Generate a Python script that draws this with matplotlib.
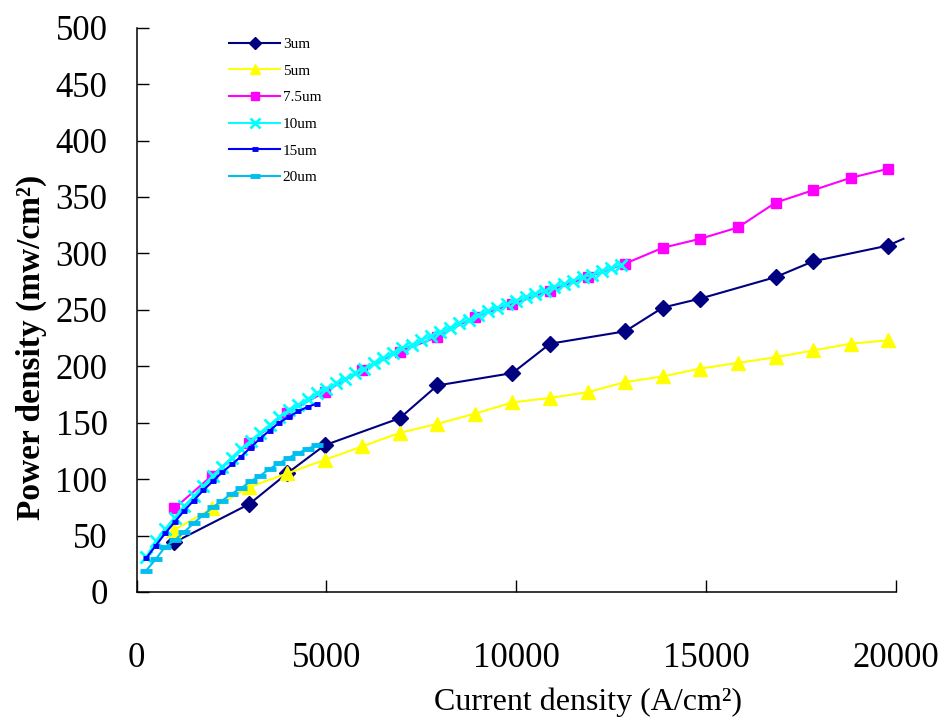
import numpy as np
import matplotlib
matplotlib.use('Agg')
import matplotlib.pyplot as plt

plt.rcParams['font.family'] = ['Liberation Serif', 'DejaVu Serif']

# current density (A/cm2) and power density (mw/cm2)
x_3um = [990, 2970, 3960, 4950, 6930, 7920, 9900, 10890, 12870, 13860, 14850,
         16830, 17820, 19800, 20200]
y_3um = [44, 78, 105, 130, 154, 183, 194, 220, 231, 252, 260, 279, 293, 307, 313]

x_5um = [990, 1980, 2970, 3960, 4950, 5940, 6930, 7920, 8910, 9900, 10890,
         11880, 12870, 13860, 14850, 15840, 16830, 17820, 18810, 19800]
y_5um = [55, 74, 93, 105, 117, 129, 141, 149, 158, 168, 172, 177, 186, 191,
         198, 203, 208, 214, 220, 223]

x_7um = x_5um
y_7um = [74, 103, 132, 159, 177, 197, 213, 226, 244, 255, 267, 279, 291, 305,
         313, 323, 345, 356, 367, 375]

x_10um = np.arange(250, 12751, 250)
y_10um = [31, 45, 56, 66, 76, 85, 94, 103, 111, 119, 127, 134, 141, 148, 155,
          161, 166, 171, 176, 180, 185, 189, 194, 198, 203, 207, 212, 216, 219,
          223, 227, 230, 234, 238, 241, 245, 249, 252, 255, 258, 261, 264, 267,
          270, 273, 276, 279, 281, 284, 287, 290]

x_15um = np.arange(250, 4751, 250)
y_15um = [30, 41, 52, 62, 72, 81, 90, 98, 106, 113, 120, 128, 136, 143, 150,
          155, 160, 164, 167]

x_20um = np.arange(250, 4751, 250)
y_20um = [19, 29, 40, 46, 53, 61, 68, 75, 81, 87, 92, 98, 103, 109, 114, 119,
          123, 127, 130]

labels = ['3um', '5um', '7.5um', '10um', '15um', '20um']

fig = plt.figure(figsize=(9.46, 7.27), dpi=100)
ax = fig.add_axes([0.1445, 0.1857, 0.8025, 0.7762])

lw = 1.5
ax.plot(x_3um, y_3um, color='#000080', lw=lw, marker='D', ms=8.5,
        markevery=list(range(len(x_3um) - 1)), clip_on=False, label=labels[0])
ax.plot(x_5um, y_5um, color='#FFFF00', lw=lw, marker='^', ms=10, label=labels[1])
ax.plot(x_7um, y_7um, color='#FF00FF', lw=lw, marker='s', ms=7.5, label=labels[2])
ax.plot(x_10um, y_10um, color='#00FFFF', lw=lw, marker='x', ms=9, mew=2,
        label=labels[3])
ax.plot(x_15um, y_15um, color='#0000FF', lw=lw, marker='_', ms=5, mew=3.5,
        label=labels[4])
ax.plot(x_20um, y_20um, color='#00BFF0', lw=lw, marker='_', ms=9, mew=3.5,
        label=labels[5])

ax.set_xlim(0, 20000)
ax.set_ylim(0, 500)
ax.set_xticks([0, 5000, 10000, 15000, 20000])
ax.set_yticks(np.arange(0, 501, 50))
ax.tick_params(direction='in', length=8.5, width=1, labelsize=25)
ax.tick_params(axis='y', pad=21)
ax.tick_params(axis='x', pad=36)
for s in ['top', 'right']:
    ax.spines[s].set_visible(False)
for s in ['left', 'bottom']:
    ax.spines[s].set_linewidth(1.1)

ax.set_xlabel('Current density (A/cm²)', fontsize=23)
ax.xaxis.set_label_coords(0.594, -0.169)
ax.set_ylabel('Power density (mw/cm²)', fontsize=24, fontweight='bold')
ax.yaxis.set_label_coords(-0.118, 0.434)

ax.legend(loc='upper left', bbox_to_anchor=(0.122, 0.983), frameon=False,
          fontsize=11, handlelength=3.3, handletextpad=0.2, labelspacing=0.85,
          borderpad=0, borderaxespad=0, numpoints=1, markerscale=0.75)

fig.savefig('out.png', dpi=100)
